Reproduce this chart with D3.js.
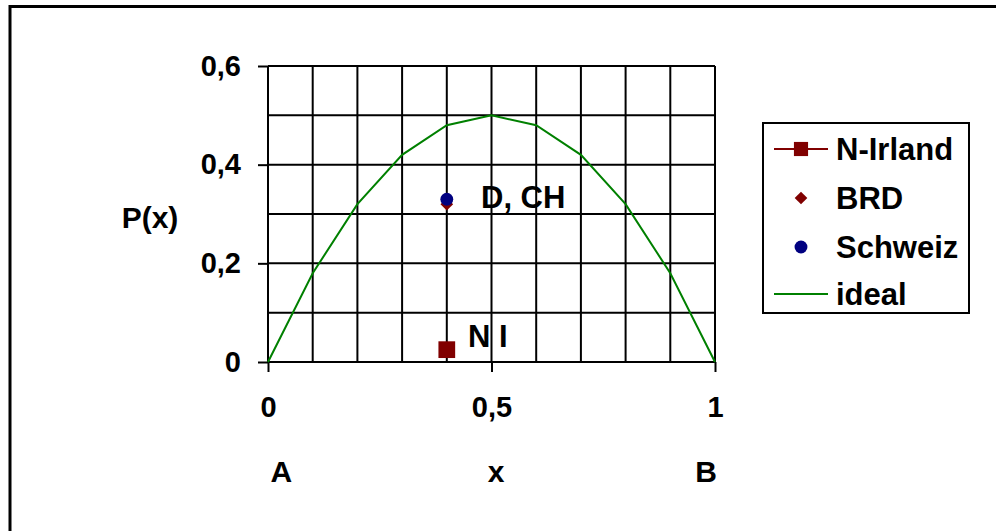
<!DOCTYPE html>
<html>
<head>
<meta charset="utf-8">
<script src="https://cdn.jsdelivr.net/npm/d3@7"></script>
<style>
    body { margin: 0; background: #fff; }
    text { font-family: "Liberation Sans", Arial, sans-serif; font-weight: bold; }
</style>
</head>
<body>
<div id="chart-container"></div>
<script>
// ideal curve
var idealX = [0, 0.1, 0.2, 0.3, 0.4, 0.5, 0.6, 0.7, 0.8, 0.9, 1];
var idealY = [0, 0.18, 0.32, 0.42, 0.48, 0.5, 0.48, 0.42, 0.32, 0.18, 0];

// measured points
var countries = ["N-Irland", "BRD", "Schweiz"];
var countryX = [0.4, 0.4, 0.4];
var countryY = [0.025, 0.32, 0.33];

// tick labels
var yTicks = [0, 0.2, 0.4, 0.6];
var yTickLabels = ["0", "0,2", "0,4", "0,6"];
var xTicks = [0, 0.5, 1];
var xTickLabels = ["0", "0,5", "1"];
var xEndLabels = ["A", "x", "B"];
var xEndPos = [0.03, 0.51, 0.98];

var width = 996, height = 531;
var plot = { left: 268, right: 715, top: 66, bottom: 362 };

var svg = d3.select("#chart-container")
    .append("svg")
    .attr("width", width)
    .attr("height", height);

// outer frame (runs off the right and bottom edges)
svg.append("rect")
    .attr("x", 10).attr("y", 6.5)
    .attr("width", 1000).attr("height", 540)
    .attr("fill", "none")
    .attr("stroke", "#000")
    .attr("stroke-width", 3);

var x = d3.scaleLinear().domain([0, 1]).range([plot.left, plot.right]);
var y = d3.scaleLinear().domain([0, 0.6]).range([plot.bottom, plot.top]);

// grid
svg.append("g")
    .selectAll("line")
    .data(d3.range(0, 11).map(function (i) { return i / 10; }))
    .enter()
    .append("line")
    .attr("x1", function (d) { return x(d); })
    .attr("x2", function (d) { return x(d); })
    .attr("y1", plot.top)
    .attr("y2", plot.bottom)
    .attr("stroke", "#000")
    .attr("stroke-width", 2);

svg.append("g")
    .selectAll("line")
    .data(d3.range(0, 7).map(function (i) { return i / 10; }))
    .enter()
    .append("line")
    .attr("x1", plot.left)
    .attr("x2", plot.right)
    .attr("y1", function (d) { return y(d); })
    .attr("y2", function (d) { return y(d); })
    .attr("stroke", "#000")
    .attr("stroke-width", 2);

function styleAxis(g) {
    g.select(".domain").remove();
    g.selectAll(".tick line").attr("stroke-width", 2);
    g.selectAll("text").attr("font-size", 29).attr("fill", "#000")
        .style("font-family", "'Liberation Sans', Arial, sans-serif")
        .style("font-weight", "bold");
}

// y axis
svg.append("g")
    .attr("transform", "translate(" + plot.left + ",0)")
    .call(d3.axisLeft(y).tickValues(yTicks).tickSize(10).tickPadding(17)
        .tickFormat(function (d, i) { return yTickLabels[i]; }))
    .call(styleAxis);

// x axis
svg.append("g")
    .attr("transform", "translate(0," + plot.bottom + ")")
    .call(d3.axisBottom(x).tickValues(xTicks).tickSize(10).tickPadding(24)
        .tickFormat(function (d, i) { return xTickLabels[i]; }))
    .call(styleAxis);

svg.selectAll(".end-label")
    .data(xEndLabels)
    .enter()
    .append("text")
    .attr("class", "end-label")
    .attr("x", function (d, i) { return x(xEndPos[i]); })
    .attr("y", 482)
    .attr("text-anchor", "middle")
    .attr("font-size", 30)
    .text(function (d) { return d; });

svg.append("text")
    .attr("x", 150)
    .attr("y", 228)
    .attr("text-anchor", "middle")
    .attr("font-size", 30)
    .text("P(x)");

// ideal line
var line = d3.line()
    .x(function (d) { return x(d[0]); })
    .y(function (d) { return y(d[1]); });

svg.append("path")
    .datum(idealX.map(function (d, i) { return [d, idealY[i]]; }))
    .attr("d", line)
    .attr("fill", "none")
    .attr("stroke", "#008000")
    .attr("stroke-width", 2);

// markers
var colors = ["#800000", "#800000", "#000080"];
var shapes = [d3.symbolSquare, d3.symbolSquare, d3.symbolCircle];
var sizes = [280, 80, 130];
var rotations = [0, 45, 0];

svg.selectAll(".pt")
    .data(countries)
    .enter()
    .append("path")
    .attr("class", "pt")
    .attr("transform", function (d, i) {
        return "translate(" + x(countryX[i]) + "," + y(countryY[i]) + ") rotate(" + rotations[i] + ")";
    })
    .attr("d", function (d, i) { return d3.symbol().type(shapes[i]).size(sizes[i])(); })
    .attr("fill", function (d, i) { return colors[i]; });

// annotations
svg.append("text").attr("x", 481).attr("y", 208).attr("font-size", 31).text("D, CH");
svg.append("text").attr("x", 468).attr("y", 347).attr("font-size", 31).text("N I");

// legend
var legend = svg.append("g");
legend.append("rect")
    .attr("x", 763).attr("y", 123)
    .attr("width", 206).attr("height", 190)
    .attr("fill", "#fff")
    .attr("stroke", "#000")
    .attr("stroke-width", 2);

var legendNames = ["N-Irland", "BRD", "Schweiz", "ideal"];
var legendY = [149, 198, 247, 294];

legendNames.forEach(function (name, i) {
    var ly = legendY[i];
    if (i === 0 || i === 3) {
        legend.append("line")
            .attr("x1", 774).attr("x2", 828)
            .attr("y1", ly).attr("y2", ly)
            .attr("stroke", i === 0 ? "#800000" : "#008000")
            .attr("stroke-width", 2);
    }
    if (i < 3) {
        legend.append("path")
            .attr("transform", "translate(801," + ly + ") rotate(" + rotations[i] + ")")
            .attr("d", d3.symbol().type(shapes[i]).size(i === 0 ? 200 : sizes[i])())
            .attr("fill", colors[i]);
    }
    legend.append("text")
        .attr("x", 836)
        .attr("y", ly + 11)
        .attr("font-size", 31)
        .text(name);
});
</script>
</body>
</html>
